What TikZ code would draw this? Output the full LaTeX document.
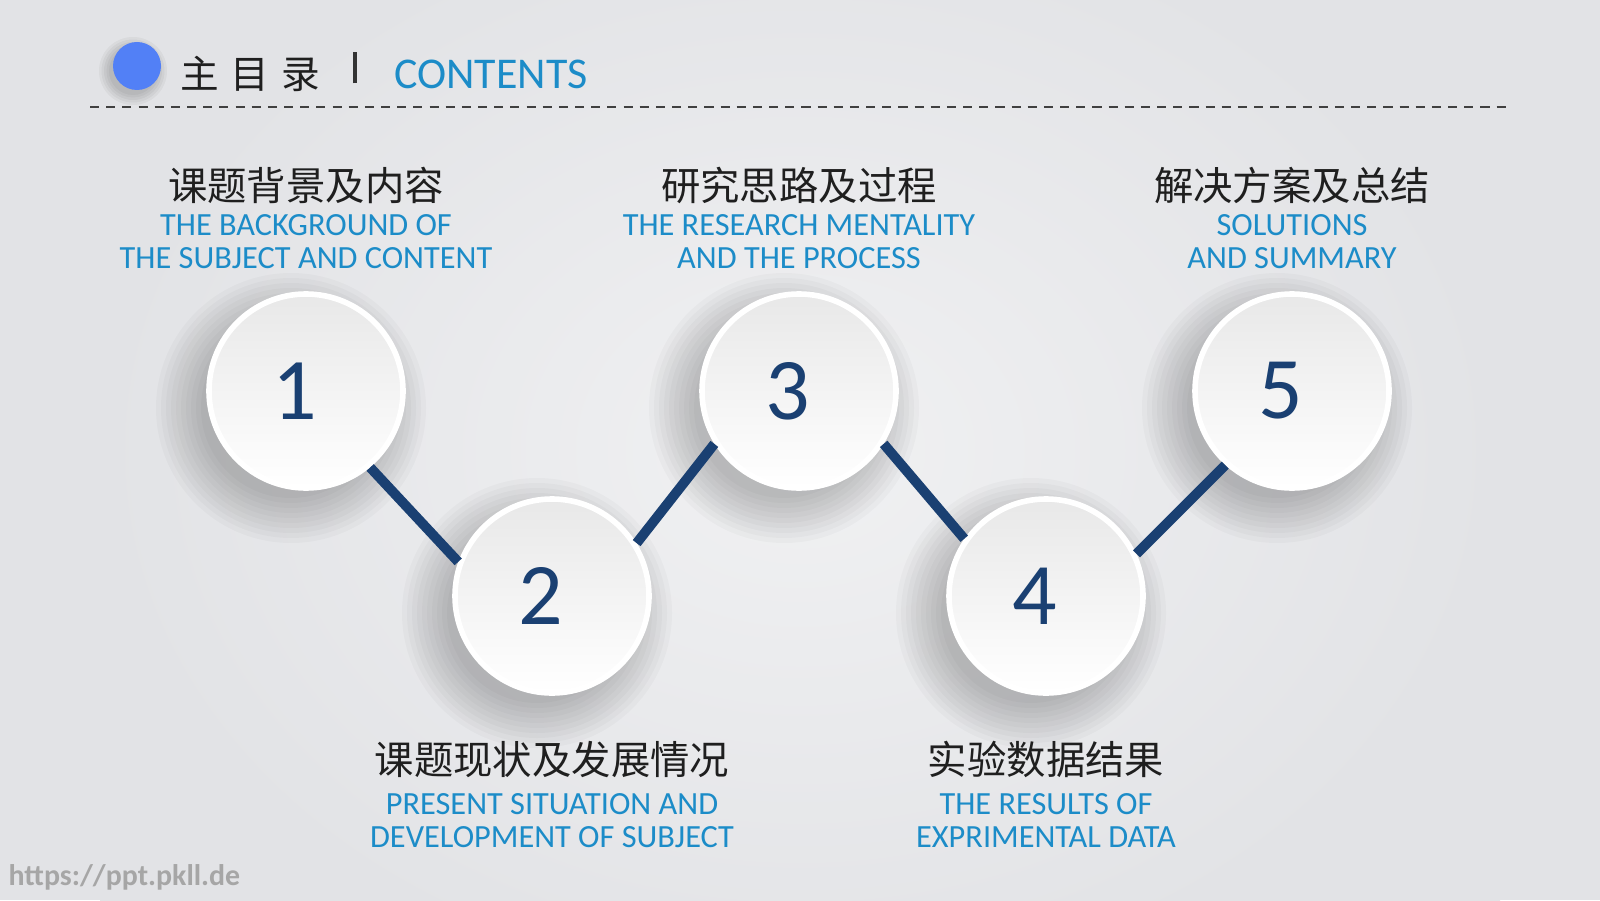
\documentclass[tikz,border=0pt]{standalone}
\usepackage{fontspec}
\setmainfont{Carlito}
\newfontfamily\cjk{Noto Sans CJK SC}
\usetikzlibrary{positioning}
\definecolor{Navy}{RGB}{26,64,114}
\definecolor{Sky}{RGB}{28,140,200}
\definecolor{Dot}{RGB}{82,128,246}
\definecolor{Paper}{RGB}{226,227,230}

\begin{document}
\begin{tikzpicture}[
  node distance=0.22cm,
  num/.style={
    circle, minimum size=1.94cm, inner sep=0pt,
    top color=black!9, bottom color=white, draw=white, line width=1.6pt,
    text=Navy, font=\fontsize{25}{25}\selectfont
  },
  soft/.style={black, fill opacity=0.025},
  link/.style={Navy, line width=2.8pt},
  zh/.style={font=\cjk\fontsize{11.2}{13}\selectfont, text=black!88, inner sep=0pt},
  en/.style={font=\fontsize{9.2}{9.3}\selectfont, text=Sky, align=center, inner sep=0pt},
  rule/.style={black!75, line width=0.7pt, dash pattern=on 2.6pt off 2pt}
]
\useasboundingbox (0,0) rectangle (16,9);

%% ── Background ──────────────────────────────────────────────────────────────
\fill[Paper] (0,0) rectangle (16,9);
\shade[inner color=white!50!Paper, outer color=Paper] (1,-1) rectangle (15,10);

%% ── Header ──────────────────────────────────────────────────────────────────
\coordinate (pd) at (1.37,8.34);
\foreach \i in {0,...,4}
  \fill[black, fill opacity=0.04] (pd) ++(-0.04,-0.05) circle ({0.24+\i*0.025});
\node[circle, fill=Dot, minimum size=0.48cm, inner sep=0pt] (dot) at (pd) {};
\node[font=\cjk\fontsize{11}{13}\selectfont, text=black!88, inner sep=0pt]
      (head) at (2.50,8.26) {主\hspace{0.12cm}目\hspace{0.12cm}录};
\node[inner sep=0pt, text=black!80] (bar) at (3.55,8.32) {\rule{1.1pt}{0.31cm}};
\node[font=\fontsize{12.5}{14}\selectfont, text=Sky, inner sep=0pt]
      (contents) at (4.91,8.26) {CONTENTS};
\coordinate (rl) at (0.90,7.93);
\coordinate (rr) at (15.10,7.93);
\draw[rule] (rl) -- (rr);

%% ── Circle positions and soft shadows ───────────────────────────────────────
\coordinate (p1) at (3.06,5.09);
\coordinate (p2) at (5.52,3.04);
\coordinate (p3) at (7.99,5.09);
\coordinate (p4) at (10.46,3.04);
\coordinate (p5) at (12.92,5.09);
\foreach \p in {p1,p2,p3,p4,p5}
  \foreach \i in {0,...,9}
    \fill[soft] (\p) ++(-0.15,-0.17) circle ({0.9+\i*0.05});

%% ── Numbered circles ────────────────────────────────────────────────────────
\node[num] (c1) at (p1) {1\hspace*{0.22cm}};
\node[num] (c2) at (p2) {2\hspace*{0.22cm}};
\node[num] (c3) at (p3) {3\hspace*{0.22cm}};
\node[num] (c4) at (p4) {4\hspace*{0.22cm}};
\node[num] (c5) at (p5) {5\hspace*{0.22cm}};

%% ── Links ───────────────────────────────────────────────────────────────────
\draw[link] (c1.-50) -- (c2.160);
\draw[link] (c2.32)  -- (c3.212);
\draw[link] (c3.-32) -- (c4.145);
\draw[link] (c4.25)  -- (c5.228);

%% ── Titles above ────────────────────────────────────────────────────────────
\node[en, above=of c1]       (e1) {THE BACKGROUND OF\\THE SUBJECT AND CONTENT};
\node[zh, above=0.09cm of e1] (t1) {课题背景及内容};
\node[en, above=of c3]       (e3) {THE RESEARCH MENTALITY\\AND THE PROCESS};
\node[zh, above=0.09cm of e3] (t3) {研究思路及过程};
\node[en, above=of c5]       (e5) {SOLUTIONS\\AND SUMMARY};
\node[zh, above=0.09cm of e5] (t5) {解决方案及总结};

%% ── Titles below ────────────────────────────────────────────────────────────
\node[zh, below=0.45cm of c2] (t2) {课题现状及发展情况};
\node[en, below=0.14cm of t2] (e2) {PRESENT SITUATION AND\\DEVELOPMENT OF SUBJECT};
\node[zh, below=0.45cm of c4] (t4) {实验数据结果};
\node[en, below=0.14cm of t4] (e4) {THE RESULTS OF\\EXPRIMENTAL DATA};

\node[text=black!35, font=\bfseries\fontsize{8.5}{9}\selectfont, anchor=west, inner sep=0pt]
      (url) at (0.08,0.23) {https://ppt.pkll.de};

\end{tikzpicture}
\end{document}
